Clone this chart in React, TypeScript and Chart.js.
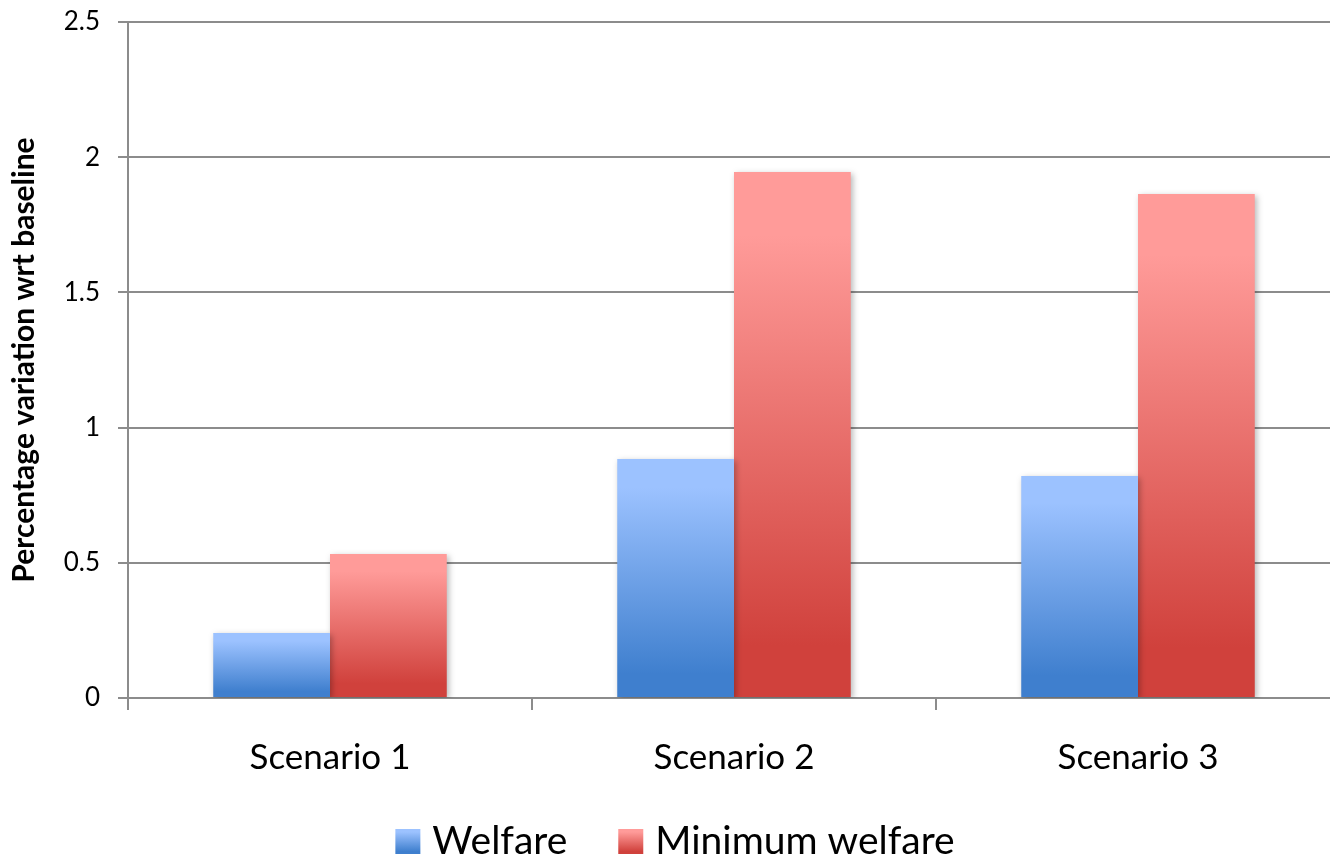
import React, { useEffect, useRef } from "react";
import { Chart, registerables } from "chart.js";

Chart.register(...registerables);

const categories = ["Scenario 1", "Scenario 2", "Scenario 3"];
const welfare = [0.24, 0.884, 0.821];
const minimumWelfare = [0.533, 1.945, 1.864];
const seriesNames = ["Welfare", "Minimum welfare"];
const yTitle = "Percentage variation wrt baseline";

const FONT = "Lato, 'Open Sans', sans-serif";
const BLUE = ["#9CC2FF", "#3F7FCE"];
const RED = ["#FF9B99", "#D0413C"];

function makeGradient(c: CanvasRenderingContext2D, y0: number, y1: number, top: string, bottom: string) {
  const g = c.createLinearGradient(0, y0, 0, y1);
  g.addColorStop(0, top);
  g.addColorStop(0.12, top);
  g.addColorStop(0.9, bottom);
  g.addColorStop(1, bottom);
  return g;
}

function barGradient(top: string, bottom: string) {
  return (ctx: any) => {
    const chart = ctx.chart;
    const ys = chart.scales && chart.scales.y;
    if (!ys || ctx.raw === undefined || ctx.type !== "data") return top;
    const y0 = ys.getPixelForValue(Number(ctx.raw));
    const y1 = ys.getPixelForValue(0);
    if (!isFinite(y0) || !isFinite(y1) || y0 === y1) return top;
    return makeGradient(chart.ctx, y0, y1, top, bottom);
  };
}

const shadowPlugin = {
  id: "barShadow",
  beforeDatasetsDraw(chart: any) {
    const c = chart.ctx;
    c.save();
    c.shadowColor = "rgba(0,0,0,0.28)";
    c.shadowBlur = 6;
    c.shadowOffsetX = 2;
    c.shadowOffsetY = 2;
  },
  afterDatasetsDraw(chart: any) {
    chart.ctx.restore();
  },
};

const legendPlugin = {
  id: "customLegend",
  afterDraw(chart: any) {
    const c: CanvasRenderingContext2D = chart.ctx;
    const fontSize = 39;
    const box = 25;
    const gapBoxText = 12;
    const gapItems = 51;
    const colors = [BLUE, RED];
    c.save();
    c.font = `${fontSize}px ${FONT}`;
    const widths = seriesNames.map((n) => c.measureText(n).width);
    const total =
      widths.reduce((a, w) => a + box + gapBoxText + w, 0) + gapItems * (seriesNames.length - 1);
    const cx = 675;
    let x = cx - total / 2;
    const boxTop = 829;
    const baseline = 854;
    c.textBaseline = "alphabetic";
    c.textAlign = "left";
    seriesNames.forEach((n, i) => {
      c.fillStyle = makeGradient(c, boxTop, boxTop + box, colors[i][0], colors[i][1]);
      c.fillRect(x, boxTop, box, box);
      x += box + gapBoxText;
      c.fillStyle = "#000";
      c.fillText(n, x, baseline);
      x += widths[i] + gapItems;
    });
    c.restore();
  },
};

export default function App() {
  const ref = useRef<HTMLCanvasElement | null>(null);
  useEffect(() => {
    document.body.style.margin = "0";
    document.body.style.overflow = "hidden";
    const canvas = ref.current!;
    const chart = new Chart(canvas, {
      type: "bar",
      data: {
        labels: categories,
        datasets: [
          {
            label: seriesNames[0],
            data: welfare,
            backgroundColor: barGradient(BLUE[0], BLUE[1]),
            borderWidth: 0,
          },
          {
            label: seriesNames[1],
            data: minimumWelfare,
            backgroundColor: barGradient(RED[0], RED[1]),
            borderWidth: 0,
          },
        ],
      },
      plugins: [shadowPlugin, legendPlugin],
      options: {
        responsive: false,
        animation: false,
        maintainAspectRatio: false,
        layout: { padding: { top: 22, right: 0, bottom: 48, left: 0 } },
        datasets: {
          bar: { categoryPercentage: 0.578, barPercentage: 1 },
        },
        plugins: {
          tooltip: { enabled: false },
          legend: { display: false },
        },
        scales: {
          x: {
            grid: {
              offset: true,
              drawOnChartArea: false,
              color: "#8C8C8C",
              lineWidth: 2,
              tickLength: 12,
            },
            border: { display: true, color: "#8C8C8C", width: 2 },
            ticks: {
              font: { family: FONT, size: 35 },
              color: "#000",
              padding: 27,
            },
            afterFit: (s: any) => {
              s.height = 110;
              s.paddingLeft = 0;
              s.paddingRight = 0;
            },
          },
          y: {
            min: 0,
            max: 2.5,
            ticks: {
              stepSize: 0.5,
              font: { family: FONT, size: 26 },
              color: "#000",
              padding: 18,
              callback: (v: any) => String(Number(v)),
            },
            grid: {
              color: "#8C8C8C",
              lineWidth: 2,
              tickLength: 10,
            },
            border: { display: true, color: "#8C8C8C", width: 2 },
            title: {
              display: true,
              text: yTitle,
              font: { family: FONT, size: 30, weight: "bold" },
              color: "#000",
              padding: { top: 6, bottom: 0 },
            },
            afterFit: (s: any) => {
              s.width = 128;
              s.paddingTop = 0;
              s.paddingBottom = 0;
            },
          },
        },
      },
    });
    return () => chart.destroy();
  }, []);
  return (
    <div style={{ width: 1330, height: 856, overflow: "hidden", position: "relative" }}>
      <canvas ref={ref} width={1340} height={856} style={{ position: "absolute", left: 0, top: 0 }} />
    </div>
  );
}
